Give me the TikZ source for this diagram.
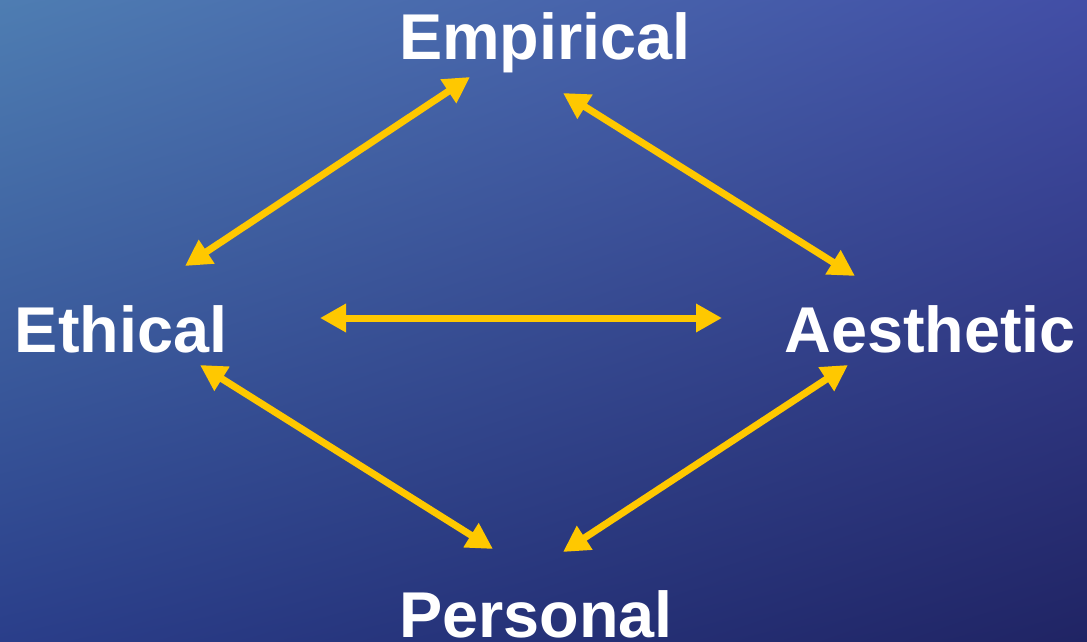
\documentclass[tikz,border=0pt]{standalone}
\usepackage{fontspec}
\setmainfont{Liberation Sans}
\usetikzlibrary{arrows.meta,calc,shadings}
\definecolor{arrowyellow}{RGB}{255,200,0}
\definecolor{bgUL}{RGB}{78,125,178}
\definecolor{bgUR}{RGB}{66,78,166}
\definecolor{bgLL}{RGB}{42,62,138}
\definecolor{bgLR}{RGB}{32,36,100}
\tikzset{
  label/.style={text=white, font=\fontsize{65}{70}\selectfont\bfseries, inner sep=0pt, anchor=base},
  link/.style={draw=arrowyellow, line width=7bp, {Triangle[length=26bp,width=27bp]}-{Triangle[length=26bp,width=27bp]}}
}
\begin{document}
\begin{tikzpicture}[x=1bp,y=-1bp]
\useasboundingbox (0,0) rectangle (1087,642);
\shade[upper left=bgUL, upper right=bgUR, lower left=bgLL, lower right=bgLR] (0,0) rectangle (1087,642);
\node[label] (emp) at (545,60) {Empirical};
\node[label] (eth) at (121,352) {Ethical};
\node[label] (aes) at (930,352) {Aesthetic};
\node[label] (per) at (536,637) {Personal};
\coordinate (empL) at ($(emp.base)+(-75,17)$);
\coordinate (empR) at ($(emp.base)+(18,33)$);
\coordinate (ethT) at ($(eth.base)+(64,-86)$);
\coordinate (ethR) at ($(eth.base)+(199,-34)$);
\coordinate (ethB) at ($(eth.base)+(79,13)$);
\coordinate (aesT) at ($(aes.base)+(-75,-76)$);
\coordinate (aesL) at ($(aes.base)+(-208,-34)$);
\coordinate (aesB) at ($(aes.base)+(-82,13)$);
\coordinate (perL) at ($(per.base)+(-43,-88)$);
\coordinate (perR) at ($(per.base)+(27,-85)$);
\draw[link] (empL) -- (ethT);
\draw[link] (empR) -- (aesT);
\draw[link] (ethR) -- (aesL);
\draw[link] (ethB) -- (perL);
\draw[link] (aesB) -- (perR);
\end{tikzpicture}
\end{document}
